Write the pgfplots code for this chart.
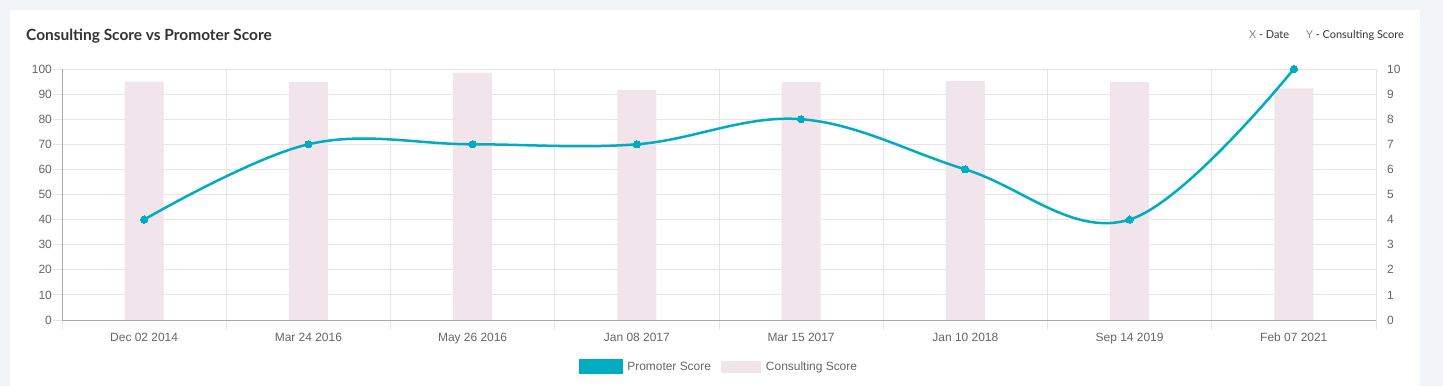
\documentclass[border=0pt]{standalone}
\usepackage{fontspec}
\setmainfont{Liberation Sans}
\newfontfamily\latofont{Lato}
\usepackage{pgfplots}
\pgfplotsset{compat=1.18}
\definecolor{bgc}{HTML}{F1F4F8}
\definecolor{tealc}{HTML}{00ACC1}
\definecolor{pinkc}{HTML}{F2E4EB}
\definecolor{gridc}{HTML}{E6E6E6}
\definecolor{axisc}{HTML}{AAAAAA}
\definecolor{labc}{HTML}{666666}
\definecolor{titc}{HTML}{333333}
\definecolor{lgc}{HTML}{888888}
\begin{document}
\begin{tikzpicture}
\fill[bgc] (0bp,0bp) rectangle (1443bp,386bp);
\fill[white] (10bp,0bp) rectangle (1420bp,376bp);
\node[anchor=base west, inner sep=0pt, font=\latofont\bfseries\fontsize{15.5}{17}\selectfont, text=titc] at (26bp,345bp) {Consulting Score vs Promoter Score};
\node[anchor=base east, inner sep=0pt, font=\latofont\fontsize{11}{13}\selectfont, text=titc] at (1404bp,347bp) {\textcolor{lgc}{X} - Date\hspace{17bp}\textcolor{lgc}{Y} - Consulting Score};
% bars axis (drawn first, holds the grid)
\begin{axis}[at={(62bp,66bp)}, anchor=south west, scale only axis,
  width=1314bp, height=251bp,
  xmin=-0.5, xmax=7.5, ymin=0, ymax=10,
  axis x line=bottom, axis y line=right, axis line style={draw=none},
  xtick={-0.5,0.5,...,7.5}, xticklabels={},
  ytick={0,1,...,10},
  major tick length=0pt,
  grid=major, grid style={draw=gridc, line width=0.8bp},
  yticklabel style={anchor=west, inner sep=0pt, xshift=11bp, text=labc, font=\fontsize{12}{14}\selectfont},
  /pgf/number format/assume math mode=true,
  legend style={draw=none, fill=none, at={(0.5,-0.186)}, anchor=center, legend columns=2,
    font=\fontsize{12}{14}\selectfont, text=labc,
    /tikz/every odd column/.append style={column sep=3bp},
    /tikz/every even column/.append style={column sep=8bp}},
  legend cell align=left,
]
\addlegendimage{legend image code/.code={\fill[tealc] (0bp,-7bp) rectangle (43bp,7bp);}}
\addlegendentry{Promoter Score}
\addplot[ybar, bar width=39bp, fill=pinkc, draw=none,
  legend image code/.code={\fill[pinkc] (0bp,-6bp) rectangle (40bp,6bp);}]
  coordinates {(0,9.5)(1,9.48)(2,9.85)(3,9.17)(4,9.48)(5,9.52)(6,9.48)(7,9.23)};
\addlegendentry{Consulting Score}
\end{axis}
% line axis
\begin{axis}[at={(62bp,66bp)}, anchor=south west, scale only axis,
  width=1314bp, height=251bp,
  xmin=-0.5, xmax=7.5, ymin=0, ymax=100,
  axis x line=bottom, axis y line=left, axis line style={draw=axisc, -, line width=0.8bp},
  clip=false,
  xtick={0,...,7},
  xticklabels={Dec 02 2014,Mar 24 2016,May 26 2016,Jan 08 2017,Mar 15 2017,Jan 10 2018,Sep 14 2019,Feb 07 2021},
  minor xtick={-0.5,0.5,...,7.5},
  ytick={0,10,...,100},
  tick align=outside,
  major tick length=9bp, minor tick length=10bp,
  major x tick style={draw=none},
  minor x tick style={draw=gridc, line width=0.8bp},
  major y tick style={draw=gridc, line width=0.8bp},
  xticklabel style={inner sep=0pt, anchor=north, text=labc, font=\fontsize{12}{14}\selectfont, yshift=-4bp},
  yticklabel style={inner sep=0pt, anchor=east, text=labc, font=\fontsize{12}{14}\selectfont, xshift=-1bp},
  /pgf/number format/assume math mode=true,
]
\addplot[tealc, line width=2.5bp, smooth, tension=0.62, mark=*, mark size=3.6bp,
  mark options={fill=tealc, draw=tealc, line width=0pt}]
  coordinates {(0,40)(1,70)(2,70)(3,70)(4,80)(5,60)(6,40)(7,100)};
\end{axis}
\end{tikzpicture}
\end{document}
